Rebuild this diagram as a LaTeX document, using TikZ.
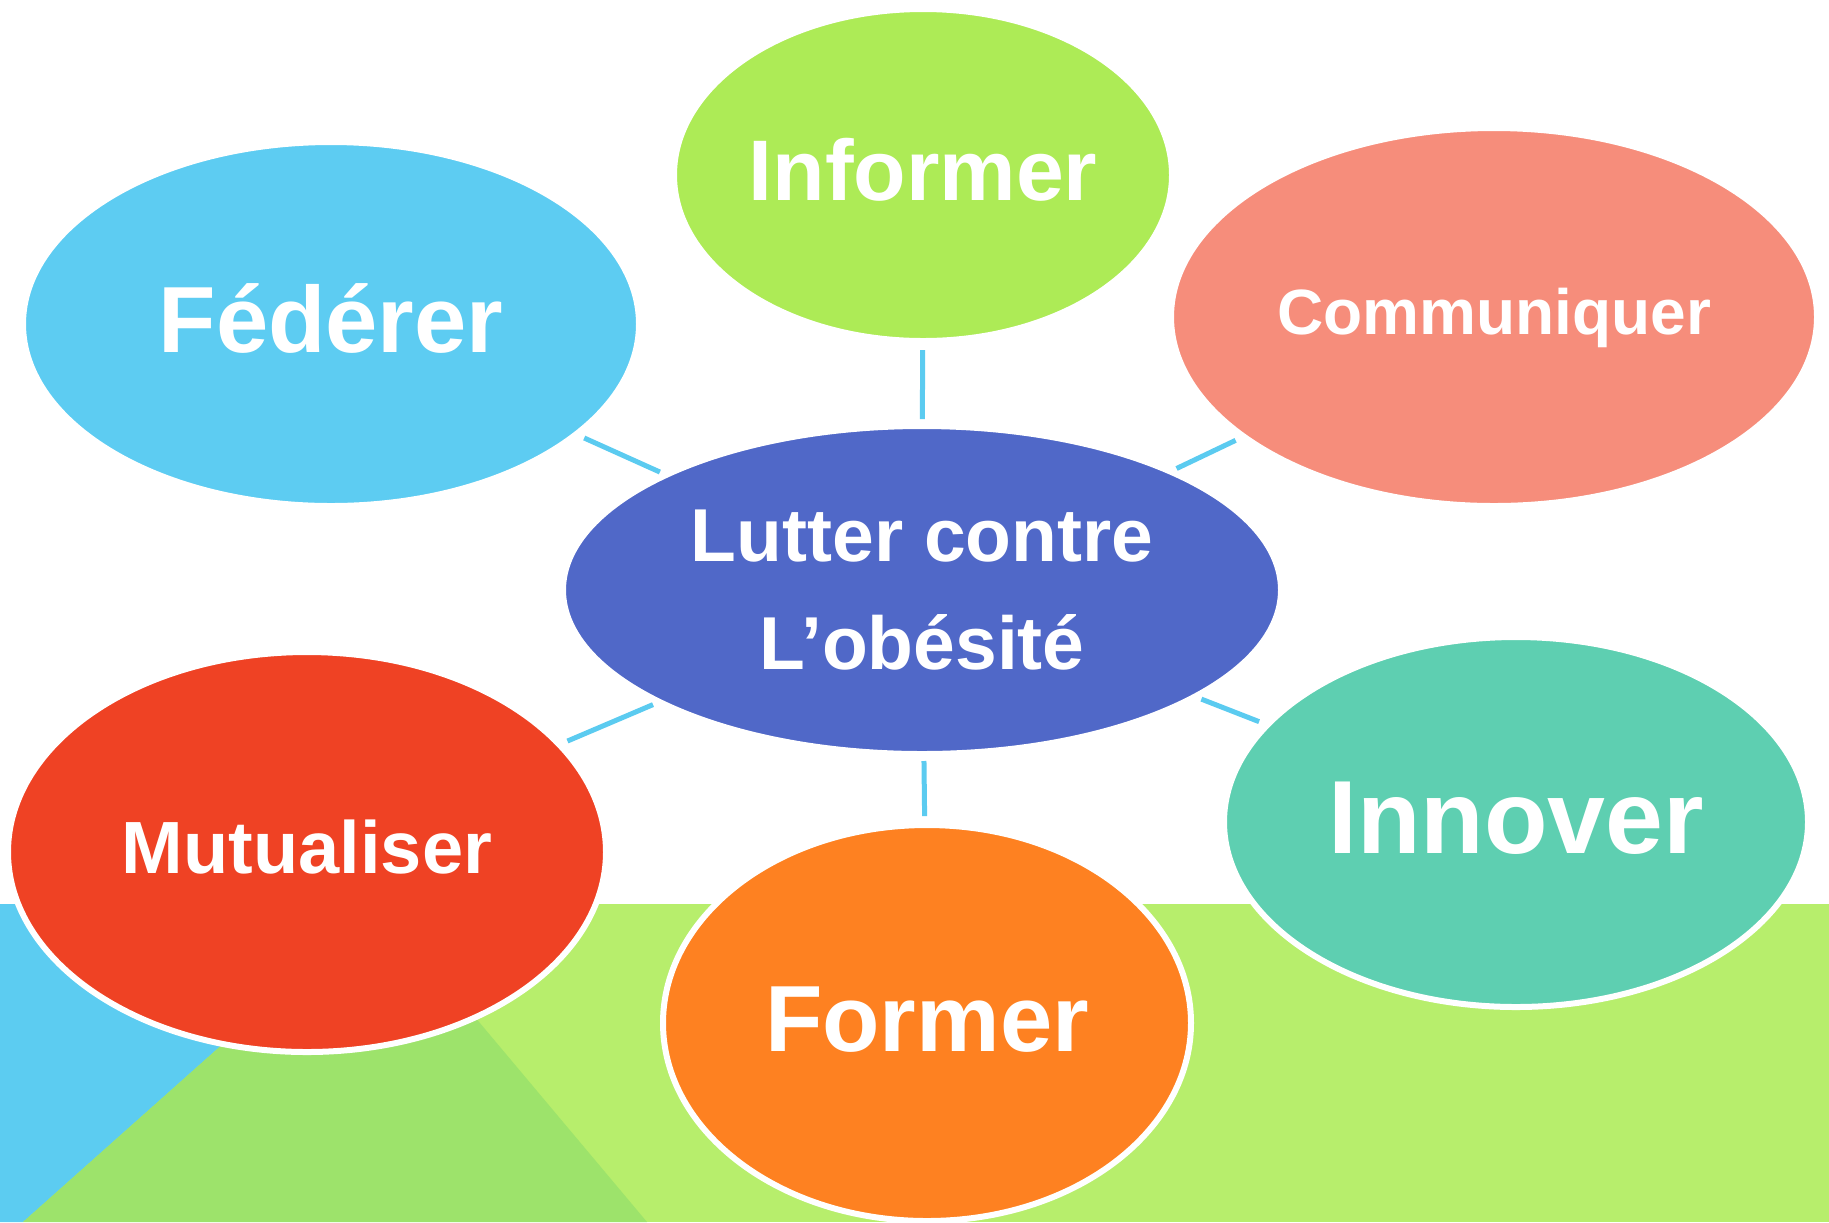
\documentclass[tikz,border=0pt]{standalone}
\usepackage{fontspec}
\setmainfont{Liberation Sans}
\usetikzlibrary{shapes.geometric}
\definecolor{bglight}{HTML}{B7EE6C}
\definecolor{bgdark}{HTML}{9DE36B}
\definecolor{bgblue}{HTML}{5CCCF1}
\definecolor{linkblue}{HTML}{5BCBF0}
\definecolor{cInf}{HTML}{ADEB56}
\definecolor{cFed}{HTML}{5DCCF2}
\definecolor{cCom}{HTML}{F68D7B}
\definecolor{cCen}{HTML}{5068C8}
\definecolor{cMut}{HTML}{EF4224}
\definecolor{cFor}{HTML}{FE8121}
\definecolor{cInn}{HTML}{5ECFB1}
\begin{document}
\begin{tikzpicture}[x=0.5pt,y=-0.5pt,
  bub/.style={ellipse, draw=white, line width=3pt, inner sep=0pt, outer sep=0pt,
    text=white, align=center},
  lbl/.style 2 args={font=\bfseries\fontsize{#1}{#1}\selectfont,
    text height=#2, text depth=5pt},
  link/.style={draw=linkblue, line width=2.5pt, shorten <=3.5pt, shorten >=4.5pt}]
\useasboundingbox (0,0) rectangle (1829,1222);
% background
\fill[bglight] (0,904) rectangle (1829,1222);
\fill[bgblue] (0,904) -- (380,904) -- (23,1222) -- (0,1222) -- cycle;
\fill[bgdark] (380,904) -- (23,1222) -- (647,1222) -- cycle;
% nodes
\node[bub, fill=cCen, minimum width=359pt, minimum height=164pt,
  font=\bfseries\fontsize{37.5}{54}\selectfont] (cen) at (922,590) {Lutter contre\\L’obésité};
\node[bub, fill=cInf, minimum width=249pt, minimum height=166pt, lbl={43}{30pt}] (inf) at (923,175) {Informer};
\node[bub, fill=cFed, minimum width=308pt, minimum height=182pt, lbl={47}{33pt}] (fed) at (331,324) {Fédérer};
\node[bub, fill=cCom, minimum width=323pt, minimum height=189pt, lbl={32}{22.5pt}] (com) at (1494,317) {Communiquer};
\node[bub, fill=cMut, minimum width=299pt, minimum height=200pt, lbl={37}{26pt}] (mut) at (307,852) {Mutualiser};
\node[bub, fill=cFor, minimum width=264pt, minimum height=198pt, lbl={47}{33pt}] (for) at (927,1023) {Former};
\node[bub, fill=cInn, minimum width=292pt, minimum height=185pt, lbl={52}{36.5pt}] (inn) at (1516,822) {Innover};
% connectors
\draw[link] (cen) -- (inf);
\draw[link] (cen) -- (fed);
\draw[link] (cen) -- (com);
\draw[link] (cen) -- (mut);
\draw[link] (cen) -- (for);
\draw[link] (cen) -- (inn);
\end{tikzpicture}
\end{document}
